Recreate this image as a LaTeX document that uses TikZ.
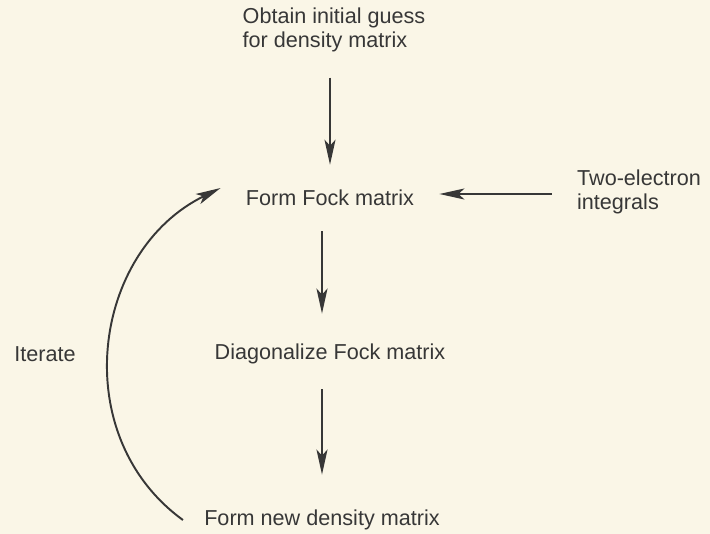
\documentclass[tikz,border=0pt]{standalone}
\usepackage{fontspec}
\setmainfont{Liberation Sans}
\usepackage{tikz}
\usetikzlibrary{arrows.meta,positioning}
\usepackage{xcolor}
\definecolor{paper}{RGB}{250,246,231}
\definecolor{ink}{RGB}{55,55,55}

\begin{document}
\begin{tikzpicture}[
  stage/.style={inner sep=0.5cm, align=left, text=ink, font=\fontsize{12.3}{14}\selectfont},
  arr/.style={-{Stealth[length=5mm, width=2.2mm, inset=1.2mm]}, line width=1.1pt, draw=ink},
  node distance=3.12cm and 3.12cm, on grid
]
  \fill[paper] (-6.6,-6.72) rectangle (7.6,3.96);
  \useasboundingbox (-6.6,-6.72) rectangle (7.6,3.96);

  \node[stage] (fock) at (0,0) {Form Fock matrix};
  \node[stage, above=3.36cm of fock, xshift=0.08cm] (guess) {Obtain initial guess\\for density matrix};
  \node[stage, below=of fock] (diag) {Diagonalize Fock matrix};
  \node[stage, below=3.32cm of diag, xshift=-0.16cm] (newdm) {Form new density matrix};
  \node[stage, right=6.18cm of fock, yshift=0.12cm] (two) {Two-electron\\integrals};
  \node[stage, left=5.7cm of diag] (iter) {Iterate};

  \draw[arr] (guess.south -| fock) -- (fock.north);
  \draw[arr] ([yshift=0.08cm]two.west |- fock) -- ([yshift=0.08cm]fock.east);
  \draw[arr, shorten >=0.1cm] (newdm.north |- fock.south) -- (newdm.north |- diag.north);
  \draw[arr, shorten >=0.2cm] (newdm.north |- diag.south) -- (newdm.north);
  \draw[arr] ([xshift=0.08cm]newdm.west) to[out=144, in=206, looseness=1.1] ([yshift=0.2cm]fock.west);
\end{tikzpicture}
\end{document}
